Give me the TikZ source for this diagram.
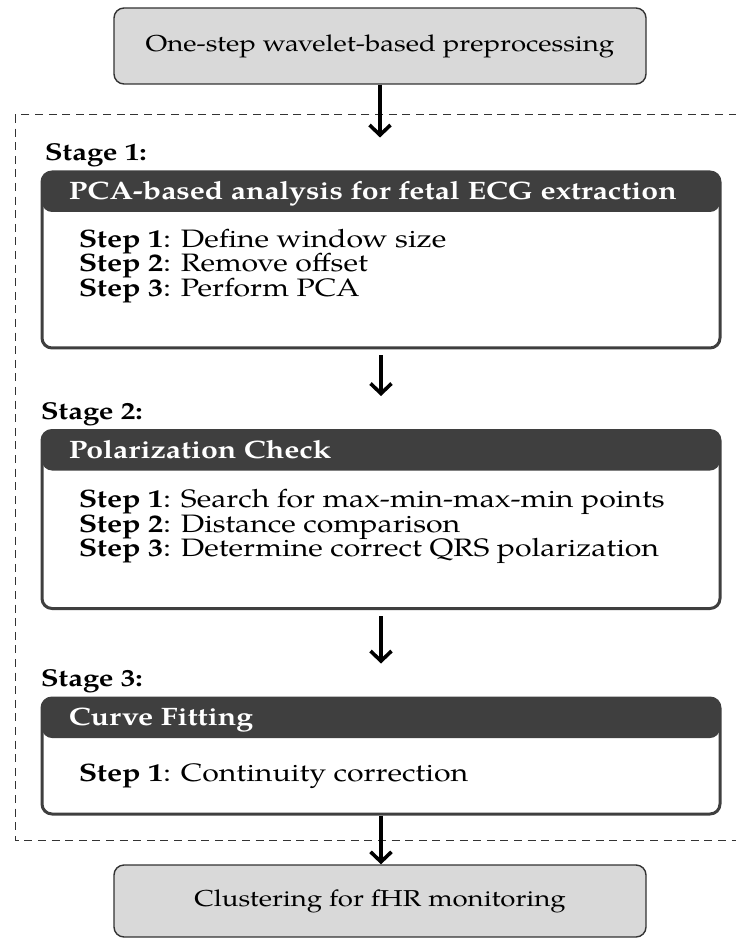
\documentclass[tikz,border=0pt]{standalone}
\usepackage{fontspec}
\setmainfont{texgyrepagella}[Extension=.otf, UprightFont=*-regular,
  BoldFont=*-bold, ItalicFont=*-italic, BoldItalicFont=*-bolditalic,
  FakeStretch=1.2]
\usepackage{tikz}
\usetikzlibrary{arrows.meta, positioning, calc}
\definecolor{ink}{HTML}{3F3F3F}
\definecolor{boxgrey}{HTML}{D9D9D9}
\definecolor{edge}{HTML}{333333}
\newcommand{\stepfont}{\fontsize{12.6}{12.3}\selectfont\lineskiplimit-6pt\relax}

\begin{document}
\begin{tikzpicture}[
  x=0.5pt, y=-0.5pt,
  font=\fontsize{12.6}{12.3}\selectfont,
  greybox/.style={draw=edge, line width=0.7pt, fill=boxgrey, rectangle,
                  rounded corners=5pt, minimum width=266pt,
                  font=\fontsize{11.5}{12}\selectfont},
  stagebox/.style={draw=ink, line width=1.5pt, fill=white, rectangle,
                   rounded corners=5pt, minimum width=339pt,
                   path picture={\fill[ink] (path picture bounding box.north west)
                     rectangle ([yshift=-20pt]path picture bounding box.north east);}},
  headtext/.style={text=white, font=\fontsize{12.6}{12.3}\selectfont\bfseries, inner sep=0pt},
  steplist/.style={align=left, inner sep=0pt, font=\stepfont},
  stagelabel/.style={font=\fontsize{12.2}{12}\selectfont\bfseries, inner sep=0pt},
  frame/.style={draw=black!80, line width=0.5pt, dash pattern=on 4pt off 2.8pt},
  flow/.style={->, line width=1.8pt},
  >={Straight Barb[length=5pt, width=10.5pt]}
]
\useasboundingbox (0,0) rectangle (735,940);

% outer dashed frame round the three stages
\draw[frame] (15,115) rectangle (800,840);

\node[greybox, minimum height=38pt] (prep) at (380,46)
  {One-step wavelet-based preprocessing};

% stage 1
\node[stagebox, minimum height=88pt] (pca) at (381,260) {};
\node[stagelabel, anchor=base west] (stage1) at ([xshift=2pt, yshift=5pt]pca.north west) {Stage 1:};
\node[headtext, anchor=base west] (pcahead) at ([xshift=14pt, yshift=-14.5pt]pca.north west)
  {PCA-based analysis for fetal ECG extraction};
\node[steplist, anchor=north west] (pcasteps) at ([xshift=19pt, yshift=-29pt]pca.north west)
  {\textbf{Step 1}: Define window size\\
   \textbf{Step 2}: Remove offset\\
   \textbf{Step 3}: Perform PCA};

% stage 2
\node[stagebox, minimum height=89pt] (polar) at (381,519.5) {};
\node[stagelabel, anchor=base west] (stage2) at ([yshift=5pt]polar.north west) {Stage 2:};
\node[headtext, anchor=base west] (polarhead) at ([xshift=14pt, yshift=-14.5pt]polar.north west)
  {Polarization Check};
\node[steplist, anchor=north west] (polarsteps) at ([xshift=19pt, yshift=-30pt]polar.north west)
  {\textbf{Step 1}: Search for max-min-max-min points\\
   \textbf{Step 2}: Distance comparison\\
   \textbf{Step 3}: Determine correct QRS polarization};

% stage 3
\node[stagebox, minimum height=58pt] (curve) at (381,756) {};
\node[stagelabel, anchor=base west] (stage3) at ([yshift=5pt]curve.north west) {Stage 3:};
\node[headtext, anchor=base west] (curvehead) at ([xshift=14pt, yshift=-14.5pt]curve.north west)
  {Curve Fitting};
\node[steplist, anchor=north west] (curvesteps) at ([xshift=19pt, yshift=-33.5pt]curve.north west)
  {\textbf{Step 1}: Continuity correction};

\node[greybox, minimum height=36pt] (clust) at (380,901)
  {Clustering for fHR monitoring};

\draw[flow, shorten >=16.5pt] (prep.south) -- (prep.south |- pca.north);
\draw[flow, shorten <=3pt, shorten >=16.5pt] (pca.south) -- (polar.north);
\draw[flow, shorten <=3pt, shorten >=16.5pt] (polar.south) -- (curve.north);
\draw[flow] (curve.south) -- (curve.south |- clust.north);
\end{tikzpicture}
\end{document}
